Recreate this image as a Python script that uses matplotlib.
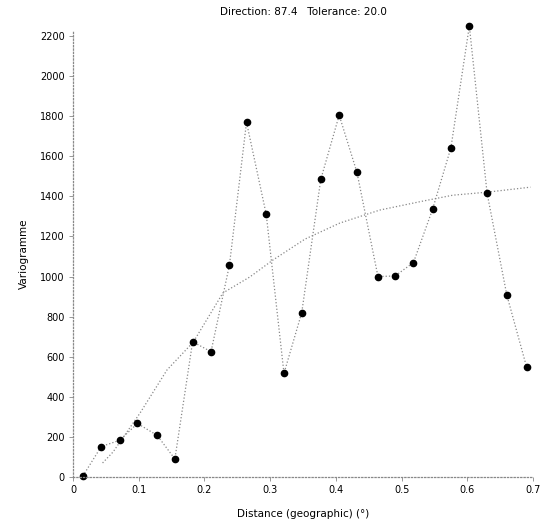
import matplotlib.pyplot as plt

# experimental variogram (lag distance, value)
lag_x = [0.015, 0.043, 0.071, 0.098, 0.128, 0.155, 0.182, 0.210, 0.238, 0.264,
         0.294, 0.321, 0.348, 0.377, 0.405, 0.432, 0.464, 0.490, 0.518, 0.547,
         0.575, 0.603, 0.630, 0.660, 0.690]
lag_y = [5, 152, 183, 267, 208, 90, 675, 625, 1057, 1770,
         1310, 517, 820, 1485, 1805, 1520, 1000, 1003, 1070, 1335,
         1643, 2250, 1416, 908, 550]

# fitted model
model_x = [0.045, 0.061, 0.102, 0.143, 0.183, 0.228, 0.269, 0.304, 0.353, 0.406,
           0.467, 0.533, 0.578, 0.630, 0.696]
model_y = [70, 125, 319, 534, 673, 918, 998, 1082, 1187, 1267,
           1332, 1377, 1406, 1421, 1446]

title = "Direction: 87.4   Tolerance: 20.0"
xlabel = "Distance (geographic) (°)"
ylabel = "Variogramme"
xticks = [0, 0.1, 0.2, 0.3, 0.4, 0.5, 0.6, 0.7]
yticks = [0, 200, 400, 600, 800, 1000, 1200, 1400, 1600, 1800, 2000, 2200]

plt.rcParams['font.family'] = ['DejaVu Sans']
fig = plt.figure(figsize=(5.53, 5.24), dpi=100)
ax = fig.add_axes([0.132, 0.0897, 0.832, 0.853])

ax.plot(model_x, model_y, ':', color='#888888', lw=0.9)
ax.plot(lag_x, lag_y, ':', color='#888888', lw=0.9, clip_on=False)
ax.plot(lag_x, lag_y, 'o', color='black', ms=4.5, ls='none', clip_on=False)

ax.set_xlim(0, 0.7)
ax.set_ylim(0, 2230)
ax.set_xticks(xticks)
ax.set_xticklabels(['0', '0.1', '0.2', '0.3', '0.4', '0.5', '0.6', '0.7'])
ax.set_yticks(yticks)

for s in ['top', 'right']:
    ax.spines[s].set_visible(False)
for s in ['left', 'bottom']:
    ax.spines[s].set_linestyle(':')
    ax.spines[s].set_color('#888888')
    ax.spines[s].set_linewidth(0.9)

ax.tick_params(labelsize=7, length=3, width=0.6, color='#888888', pad=3)
ax.set_title(title, fontsize=7.5, pad=11)
ax.set_xlabel(xlabel, fontsize=7.5, labelpad=10)
ax.set_ylabel(ylabel, fontsize=7.5, labelpad=8)

fig.savefig('out.png', dpi=100)
